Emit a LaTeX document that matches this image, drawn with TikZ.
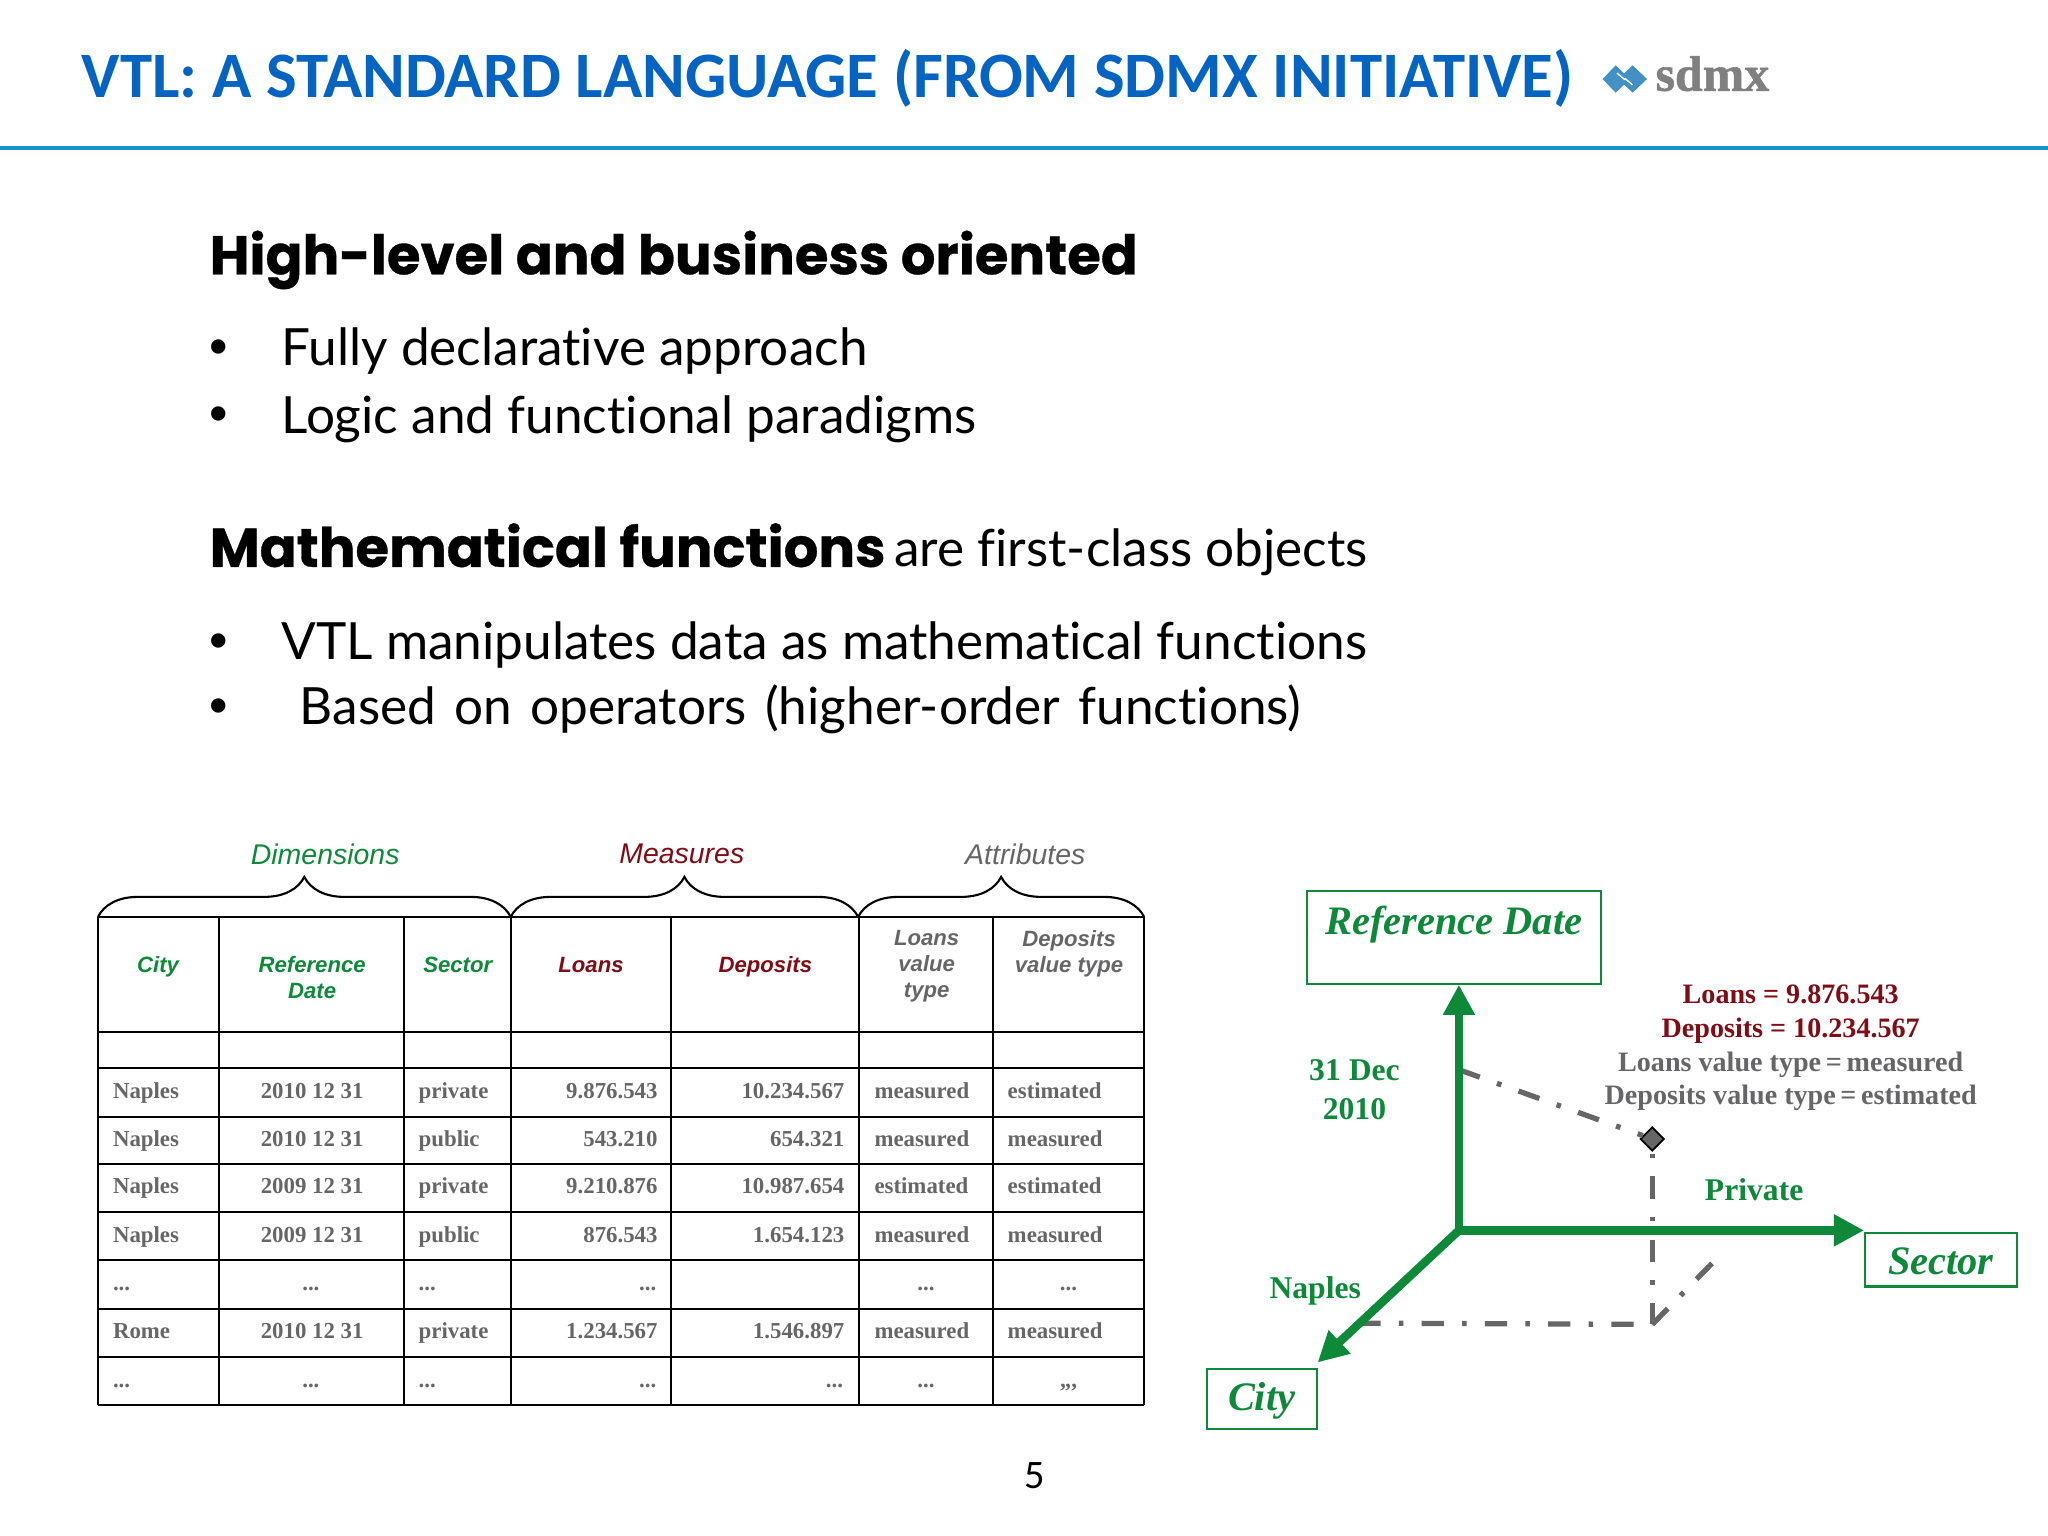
\documentclass[tikz,border=0pt]{standalone}
\usepackage{fontspec}
\setmainfont{Liberation Serif}
\setsansfont{Liberation Sans}
\newfontfamily\titlefont{Carlito}
\newfontfamily\bodyfont[Ligatures=NoCommon]{Lato}
\newfontfamily\headfont[BoldFeatures={FakeBold=0.6}]{Poppins}
\newfontfamily\logofont[BoldFeatures={FakeBold=1.2}]{Liberation Serif}
\usetikzlibrary{arrows.meta,shapes.geometric,decorations.pathreplacing}
\definecolor{vert}{RGB}{14,137,58}
\definecolor{rouge}{RGB}{127,13,22}
\definecolor{gris}{RGB}{102,102,104}
\definecolor{bleu}{RGB}{5,99,193}
\definecolor{filet}{RGB}{21,147,206}
\definecolor{losange}{RGB}{66,144,196}
\tikzset{
  head/.style={anchor=base west,inner sep=0,font=\fontsize{15.5}{18}\headfont\bfseries},
  body/.style={anchor=base west,inner sep=0,font=\fontsize{14.6}{18}\bodyfont},
  bull/.style={anchor=base west,inner sep=0,font=\fontsize{11}{14}\bodyfont},
  group/.style={inner sep=0,font=\fontsize{8.1}{10}\sffamily\itshape},
  coltitle/.style={anchor=north,inner sep=0,align=center,font=\fontsize{6.3}{7.4}\sffamily\bfseries\itshape},
  cell/.style={inner sep=0,text=gris,font=\fontsize{6.5}{8}\bfseries},
  axisbox/.style={draw=vert,line width=0.6pt,text=vert,inner sep=0,font=\fontsize{11.5}{13}\bfseries\itshape},
  axistext/.style={inner sep=0,text=vert,font=\fontsize{9}{11}\bfseries},
  pointtext/.style={anchor=base,inner sep=0,font=\fontsize{8}{10}\bfseries},
  axis/.style={vert,line width=2.4pt,->,>={Triangle[length=8.6pt,width=8.6pt]}},
  guide/.style={gris,line width=1.5pt,dash pattern=on 6.3pt off 5.2pt on 1.3pt off 5.2pt}
}
\begin{document}
\begin{tikzpicture}[x=0.0130612cm,y=-0.0130612cm]
\useasboundingbox (0,0) rectangle (1568,1176);
\node[anchor=base west,inner sep=0,text=bleu,font=\fontsize{18.45}{24}\titlefont\bfseries] (title) at (62,74.5) {VTL: A STANDARD LANGUAGE (FROM SDMX INITIATIVE)};
\fill [losange] (1227,60.5)--(1237,50)--(1248,60.5)--(1237,71)--cycle;
\fill [losange] (1239,60.5)--(1250,50)--(1261,60.5)--(1250,71)--cycle;
\draw [white,line width=0.4pt] (1238,56)--(1244,61);
\draw [white,line width=0.4pt] (1244,60)--(1250,65);
\node[anchor=base west,inner sep=0,text=gray,font=\fontsize{14.2}{16}\logofont\bfseries] (logo) at (1267,69.5) {sdmx};
\fill [filet] (0,112) rectangle (1568,114.5);
\node[head] (high) at (160,210) {High-level and business oriented};
\node[bull] (bull1) at (158,274.5) {•};
\node[body] (fully) at (215,279.5) {Fully declarative approach};
\node[bull] (bull2) at (158,325.5) {•};
\node[body] (logic) at (215,332) {Logic and functional paradigms};
\node[head] (math) at (160,434) {Mathematical functions};
\node[body] (first) at (684,434) {are first-class objects};
\node[bull] (bull3) at (158,499.5) {•};
\node[body] (vtl) at (215,505) {VTL manipulates data as mathematical functions};
\node[bull] (bull4) at (158,549.5) {•};
\node[body] (based) at (229,555) {\spaceskip=5.2pt Based on operators (higher-order functions)};
\node[group,text=vert] (dims) at (249,654) {Dimensions};
\node[group,text=rouge] (meas) at (522,654) {Measures};
\node[group,text=gris] (attr) at (785,654) {Attributes};
\draw [line width=0.6pt,decorate,decoration={brace,amplitude=0.4cm}] (75,702)--(391,702);
\draw [line width=0.6pt,decorate,decoration={brace,amplitude=0.4cm}] (391,702)--(657,702);
\draw [line width=0.6pt,decorate,decoration={brace,amplitude=0.4cm}] (657,702)--(876,702);
\foreach \x in {75,168,309,391,514,658,760,876} \draw [line width=0.6pt] (\x,702)--(\x,1076);
\foreach \y in {702,790,818,855,891,928,965,1002,1039,1076} \draw [line width=0.6pt] (75,\y)--(876,\y);
\node[coltitle,text=vert] (hcity) at (121,732) {City};
\node[coltitle,text=vert] (hdate) at (239,732) {Reference\\Date};
\node[coltitle,text=vert] (hsect) at (350.5,732) {Sector};
\node[coltitle,text=rouge] (hloan) at (452.5,732) {Loans};
\node[coltitle,text=rouge] (hdepo) at (586,732) {Deposits};
\node[coltitle,text=gris] (hlvt) at (709.5,712) {Loans\\value\\type};
\node[coltitle,text=gris] (hdvt) at (818.5,712) {Deposits\\value type};
\foreach \y/\a/\b/\c/\d/\e/\f/\g in {
  841/Naples/2010 12 31/private/9.876.543/10.234.567/measured/estimated,
  878/Naples/2010 12 31/public/543.210/654.321/measured/measured,
  914/Naples/2009 12 31/private/9.210.876/10.987.654/estimated/estimated,
  951/Naples/2009 12 31/public/876.543/1.654.123/measured/measured,
  1025/Rome/2010 12 31/private/1.234.567/1.546.897/measured/measured}{
  \node[cell,anchor=base west] (city\y) at (86,\y) {\a};
  \node[cell,anchor=base] (date\y) at (239,\y) {\b};
  \node[cell,anchor=base west] (sect\y) at (320,\y) {\c};
  \node[cell,anchor=base east] (loan\y) at (504,\y) {\d};
  \node[cell,anchor=base east] (depo\y) at (647,\y) {\e};
  \node[cell,anchor=base west] (lvt\y) at (669,\y) {\f};
  \node[cell,anchor=base west] (dvt\y) at (771,\y) {\g};
}
\foreach \y in {988,1062}{
  \node[cell,anchor=base west] (cityd\y) at (86,\y) {...};
  \node[cell,anchor=base] (dated\y) at (238,\y) {...};
  \node[cell,anchor=base west] (sectd\y) at (320,\y) {...};
  \node[cell,anchor=base east] (loand\y) at (503,\y) {...};
  \node[cell,anchor=base] (lvtd\y) at (709,\y) {...};
}
\node[cell,anchor=base] (dvtd) at (818,988) {...};
\node[cell,anchor=base east] (depod) at (646,1062) {...};
\node[cell,anchor=base] (dvte) at (818,1062) {,,,};
\node[axisbox,minimum width=2.94cm,text height=0.44cm,text depth=0.49cm] (refdate) at (1113,717.5) {Reference Date};
\node[axisbox,minimum width=1.515cm,text height=0.418cm,text depth=0.118cm] (sector) at (1486,964.5) {Sector};
\node[axisbox,minimum width=1.097cm,text height=0.418cm,text depth=0.183cm] (city) at (966,1071) {City};
\coordinate (origin) at (1117,942);
\node[diamond,draw=black,fill=gris,line width=0.5pt,inner sep=0,minimum size=6.8pt] (point) at (1265,872) {};
\coordinate (onref) at (1117,819);
\coordinate (onfloor) at (1265,1014);
\coordinate (oncity) at (1040,1013);
\coordinate (onsect) at (1314,964);
\draw [guide] (onref)--(point);
\draw [guide,dash phase=-7pt] (point)--(onfloor);
\draw [guide] (oncity)--(onfloor);
\draw [guide] (onfloor)--(onsect);
\draw [axis] (origin)--(origin |- refdate.south);
\draw [axis] (origin)--(origin -| sector.west);
\draw [axis] (origin)--([yshift=1.5pt]city.north east);
\node[axistext] (date31) at (1037,819) {31 Dec};
\node[axistext] (year) at (1037,849.5) {2010};
\node[axistext] (naples) at (1007,988) {Naples};
\node[axistext] (private) at (1343,911) {Private};
\node[pointtext,text=rouge] (valloan) at (1371,768) {Loans = 9.876.543};
\node[pointtext,text=rouge] (valdepo) at (1371,794) {Deposits = 10.234.567};
\node[pointtext,text=gris] (vallvt) at (1371,820) {Loans value type\,=\,measured};
\node[pointtext,text=gris] (valdvt) at (1371,846) {Deposits value type\,=\,estimated};
\node[inner sep=0,font=\fontsize{11.5}{14}\titlefont] (page) at (792,1130) {5};
\end{tikzpicture}
\end{document}
